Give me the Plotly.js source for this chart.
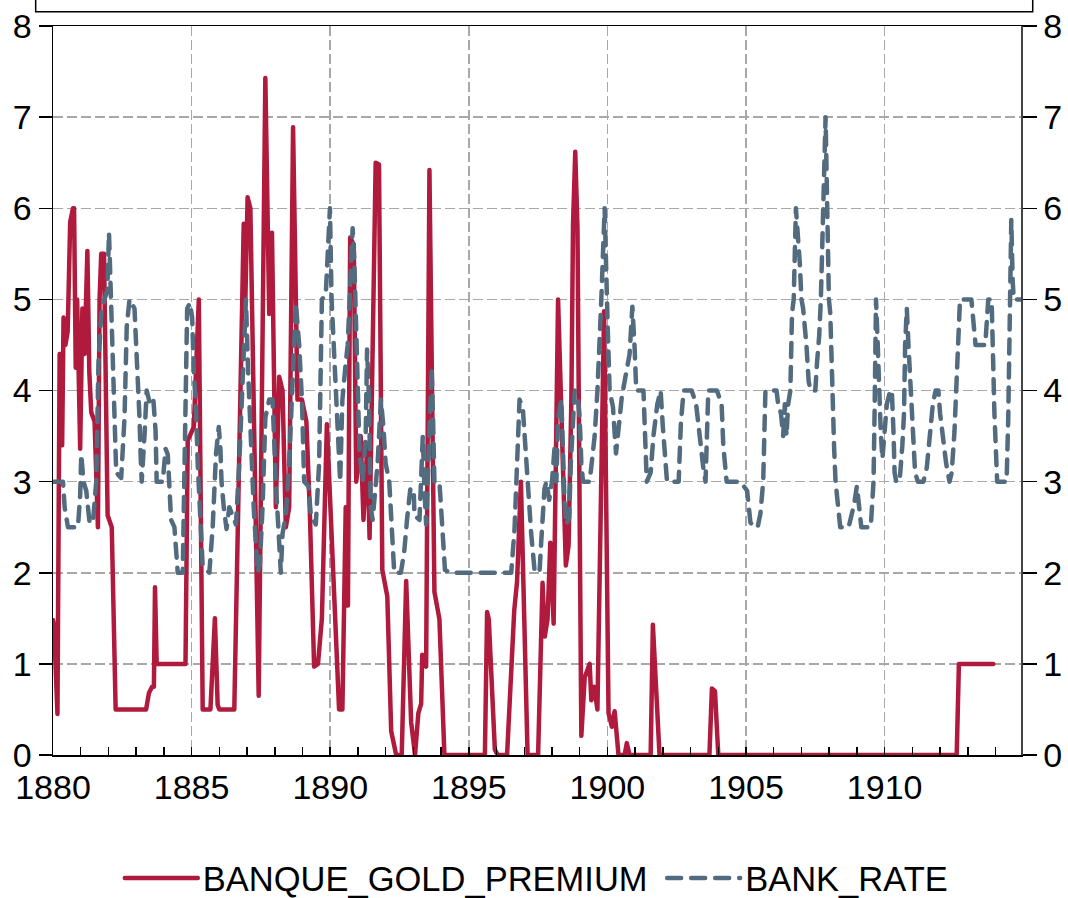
<!DOCTYPE html>
<html>
<head>
<meta charset="utf-8">
<script src="https://cdn.plot.ly/plotly-3.0.1.min.js"></script>
<style>
  html, body { margin: 0; padding: 0; background: #ffffff; }
  #chart { width: 1068px; height: 898px; }
  .scatterlayer .js-line, .legend .js-line { stroke-linecap: round; stroke-linejoin: round; }
</style>
</head>
<body>
<div id="chart"></div>
<script>
// ---- Data ----
var goldYears = [
  1880.00, 1880.04, 1880.16, 1880.24, 1880.30, 1880.33, 1880.38, 1880.45, 1880.53, 1880.62,
  1880.72, 1880.76, 1880.82, 1880.87, 1880.92, 1880.98, 1881.06, 1881.14, 1881.24, 1881.31,
  1881.38, 1881.50, 1881.62, 1881.68, 1881.74, 1881.84, 1881.97, 1882.12, 1882.26, 1883.36,
  1883.46, 1883.58, 1883.64, 1883.68, 1883.74, 1884.78, 1884.86, 1885.08, 1885.26, 1885.40,
  1885.68, 1885.84, 1885.94, 1886.00, 1886.54, 1886.88, 1886.94, 1887.02, 1887.12, 1887.42,
  1887.66, 1887.80, 1887.90, 1888.04, 1888.16, 1888.28, 1888.40, 1888.52, 1888.66, 1888.82,
  1888.98, 1889.14, 1889.26, 1889.42, 1889.56, 1889.70, 1889.88, 1890.00, 1890.32, 1890.44,
  1890.56, 1890.64, 1890.72, 1890.85, 1890.94, 1891.10, 1891.20, 1891.34, 1891.42, 1891.64,
  1891.76, 1891.88, 1892.06, 1892.20, 1892.38, 1892.58, 1892.74, 1892.92, 1893.06, 1893.18,
  1893.28, 1893.32, 1893.46, 1893.58, 1893.76, 1893.94, 1894.12, 1895.58, 1895.66, 1895.72,
  1895.94, 1896.04, 1896.38, 1896.64, 1896.74, 1896.88, 1896.98, 1897.12, 1897.50, 1897.66,
  1897.74, 1897.84, 1897.94, 1898.06, 1898.22, 1898.36, 1898.50, 1898.60, 1898.70, 1898.76,
  1898.84, 1898.92, 1899.06, 1899.18, 1899.36, 1899.42, 1899.52, 1899.64, 1899.78, 1899.88,
  1900.04, 1900.16, 1900.26, 1900.40, 1900.62, 1900.70, 1900.80, 1901.56, 1901.64, 1901.74,
  1901.88, 1903.68, 1903.77, 1903.88, 1904.00, 1912.60, 1912.68, 1913.92
];
var goldPremium = [
  1.48, 1.40, 0.45, 4.40, 4.40, 3.40, 4.80, 4.50, 4.65, 5.85,
  6.00, 6.00, 4.25, 5.00, 4.30, 3.36, 4.90, 4.40, 5.53, 4.20,
  3.76, 3.66, 2.50, 5.00, 5.50, 5.50, 2.63, 2.50, 0.50, 0.50,
  0.68, 0.75, 0.75, 1.84, 1.00, 1.00, 3.45, 3.60, 5.00, 0.50,
  0.50, 1.50, 0.55, 0.50, 0.50, 5.83, 5.00, 6.12, 6.00, 0.65,
  7.43, 4.84, 5.73, 2.72, 4.15, 4.00, 2.50, 2.72, 6.89, 3.90,
  3.90, 3.66, 2.72, 0.97, 1.00, 1.50, 3.63, 2.72, 0.50, 0.50,
  2.72, 1.64, 5.68, 5.60, 3.00, 3.50, 2.58, 3.40, 2.38, 6.50,
  6.48, 2.03, 1.74, 0.26, 0.00, 0.00, 1.91, 0.36, 0.00, 0.46,
  0.56, 1.10, 0.97, 6.42, 1.79, 1.49, 0.00, 0.00, 1.57, 1.49,
  0.06, 0.00, 0.00, 1.59, 1.90, 3.00, 1.80, 0.00, 0.00, 1.89,
  1.30, 1.49, 2.33, 1.44, 5.00, 3.70, 2.08, 2.30, 3.90, 5.83,
  6.62, 5.78, 0.21, 0.85, 1.00, 0.60, 0.75, 0.50, 3.20, 4.87,
  0.46, 0.31, 0.48, 0.00, 0.00, 0.13, 0.00, 0.00, 1.43, 0.90,
  0.00, 0.00, 0.73, 0.70, 0.00, 0.00, 1.00, 1.00
];

var rateYears = [
  1880.00, 1880.36, 1880.42, 1880.54, 1880.90, 1880.98, 1881.02, 1881.10, 1881.20, 1881.32,
  1881.44, 1881.56, 1881.64, 1881.74, 1881.86, 1881.96, 1882.02, 1882.06, 1882.10, 1882.16,
  1882.22, 1882.28, 1882.46, 1882.58, 1882.66, 1882.76, 1882.94, 1883.02, 1883.06, 1883.12,
  1883.16, 1883.20, 1883.30, 1883.38, 1883.50, 1883.62, 1883.70, 1883.74, 1883.96, 1884.06,
  1884.14, 1884.26, 1884.38, 1884.44, 1884.50, 1884.68, 1884.74, 1884.80, 1884.84, 1884.94,
  1885.02, 1885.08, 1885.16, 1885.22, 1885.34, 1885.40, 1885.64, 1885.76, 1885.88, 1885.98,
  1886.04, 1886.08, 1886.16, 1886.26, 1886.36, 1886.48, 1886.60, 1886.72, 1886.84, 1886.96,
  1887.04, 1887.12, 1887.24, 1887.38, 1887.46, 1887.56, 1887.66, 1887.80, 1887.92, 1888.04,
  1888.12, 1888.22, 1888.28, 1888.40, 1888.52, 1888.64, 1888.76, 1888.88, 1888.98, 1889.06,
  1889.22, 1889.30, 1889.48, 1889.60, 1889.70, 1889.84, 1889.99, 1890.05, 1890.12, 1890.20,
  1890.30, 1890.36, 1890.44, 1890.50, 1890.56, 1890.63, 1890.70, 1890.81, 1890.87, 1890.94,
  1890.99, 1891.06, 1891.17, 1891.24, 1891.28, 1891.33, 1891.40, 1891.46, 1891.53, 1891.71,
  1891.83, 1891.92, 1892.00, 1892.13, 1892.22, 1892.31, 1892.55, 1892.67, 1892.77, 1892.89,
  1893.01, 1893.04, 1893.22, 1893.28, 1893.34, 1893.40, 1893.46, 1893.54, 1893.61, 1893.66,
  1893.71, 1893.76, 1893.94, 1894.00, 1894.06, 1894.14, 1894.36, 1896.53, 1896.65, 1896.71,
  1896.77, 1896.83, 1896.95, 1897.01, 1897.07, 1897.13, 1897.19, 1897.25, 1897.37, 1897.55,
  1897.61, 1897.73, 1897.80, 1897.90, 1898.00, 1898.10, 1898.16, 1898.22, 1898.34, 1898.40,
  1898.46, 1898.52, 1898.62, 1898.68, 1898.76, 1898.82, 1898.94, 1899.00, 1899.06, 1899.12,
  1899.36, 1899.44, 1899.54, 1899.64, 1899.72, 1899.78, 1899.90, 1899.96, 1900.01, 1900.08,
  1900.20, 1900.31, 1900.40, 1900.52, 1900.80, 1900.90, 1900.98, 1901.04, 1901.30, 1901.36,
  1901.42, 1901.56, 1901.66, 1901.80, 1901.92, 1902.00, 1902.07, 1902.15, 1902.57, 1902.65,
  1902.75, 1903.04, 1903.20, 1903.34, 1903.46, 1903.54, 1903.60, 1903.64, 1903.95, 1904.12,
  1904.18, 1904.24, 1904.30, 1904.80, 1905.04, 1905.16, 1905.30, 1905.42, 1905.52, 1905.62,
  1905.66, 1905.70, 1906.10, 1906.16, 1906.26, 1906.34, 1906.40, 1906.46, 1906.52, 1906.60,
  1906.66, 1906.72, 1906.80, 1906.88, 1906.94, 1907.00, 1907.06, 1907.18, 1907.26, 1907.33,
  1907.50, 1907.56, 1907.64, 1907.70, 1907.78, 1907.87, 1907.93, 1907.99, 1908.04, 1908.10,
  1908.14, 1908.18, 1908.23, 1908.32, 1908.40, 1908.70, 1908.90, 1909.00, 1909.08, 1909.16,
  1909.50, 1909.60, 1909.64, 1909.69, 1909.74, 1909.80, 1909.86, 1909.92, 1909.98, 1910.08,
  1910.20, 1910.26, 1910.32, 1910.36, 1910.42, 1910.54, 1910.64, 1910.70, 1910.74, 1910.80,
  1910.86, 1910.96, 1911.04, 1911.10, 1911.20, 1911.40, 1911.52, 1911.64, 1911.74, 1911.84,
  1911.94, 1912.00, 1912.12, 1912.22, 1912.34, 1912.42, 1912.52, 1912.58, 1912.64, 1912.72,
  1913.13, 1913.20, 1913.28, 1913.63, 1913.68, 1913.74, 1913.86, 1913.90, 1913.96, 1914.06,
  1914.40, 1914.46, 1914.50, 1914.53, 1914.57, 1914.62, 1914.66, 1914.92
];
var bankRate = [
  3.00, 3.00, 2.72, 2.50, 2.50, 2.85, 3.30, 3.00, 2.90, 2.55,
  2.55, 3.00, 4.30, 4.84, 5.00, 5.10, 5.73, 5.33, 5.00, 4.20,
  3.56, 3.10, 3.04, 3.70, 4.70, 5.00, 4.90, 4.45, 4.20, 3.70,
  3.30, 3.00, 3.50, 4.00, 3.85, 3.90, 3.56, 3.00, 3.00, 3.36,
  3.30, 2.58, 2.50, 2.28, 2.00, 2.00, 3.20, 4.20, 4.90, 4.96,
  4.80, 4.20, 3.80, 3.20, 2.48, 2.07, 2.00, 2.50, 3.30, 3.60,
  3.36, 3.00, 2.72, 2.48, 2.72, 2.63, 2.53, 3.20, 4.10, 5.00,
  4.20, 3.46, 2.72, 2.00, 2.08, 2.72, 3.70, 3.90, 3.90, 2.98,
  2.43, 2.00, 2.43, 2.63, 3.20, 4.20, 4.96, 4.50, 3.90, 3.00,
  2.95, 2.63, 2.53, 3.20, 5.00, 5.05, 6.00, 5.00, 4.50, 4.00,
  3.30, 3.00, 3.90, 4.20, 4.30, 4.50, 5.00, 5.78, 5.43, 4.70,
  3.90, 3.30, 3.00, 3.30, 3.50, 4.45, 3.90, 2.72, 2.58, 3.20,
  3.90, 3.60, 3.20, 3.00, 2.48, 2.00, 2.00, 2.23, 2.58, 2.92,
  2.92, 2.63, 2.58, 3.20, 3.50, 2.92, 2.53, 3.20, 3.90, 4.25,
  3.70, 3.00, 3.00, 2.72, 2.33, 2.03, 2.00, 2.00, 2.48, 3.00,
  3.50, 3.90, 3.80, 3.50, 3.20, 2.92, 2.72, 2.43, 2.03, 2.00,
  2.33, 2.92, 3.00, 2.80, 3.00, 3.40, 3.00, 3.70, 3.90, 3.30,
  2.72, 2.53, 2.60, 3.20, 3.70, 4.00, 3.90, 3.70, 3.20, 3.00,
  3.00, 3.20, 3.50, 4.00, 4.50, 5.00, 6.00, 5.48, 4.70, 4.00,
  3.82, 3.31, 3.60, 3.93, 4.40, 4.92, 4.48, 4.00, 4.00, 3.50,
  3.00, 3.10, 3.50, 3.85, 4.00, 3.60, 3.25, 3.00, 3.00, 3.64,
  4.00, 4.00, 3.85, 3.45, 3.15, 3.00, 3.45, 4.00, 4.00, 3.85,
  3.40, 3.10, 3.00, 3.00, 2.90, 2.55, 2.50, 2.50, 2.65, 3.00,
  3.40, 4.00, 4.00, 3.85, 3.75, 3.50, 3.85, 3.50, 3.85, 4.00,
  4.85, 5.00, 6.00, 5.70, 5.40, 5.00, 4.90, 4.50, 4.10, 4.00,
  4.00, 4.30, 4.60, 5.00, 6.00, 7.00, 6.00, 5.00, 4.85, 4.10,
  3.75, 3.36, 3.00, 2.75, 2.50, 2.50, 2.75, 2.95, 2.75, 2.50,
  2.50, 3.00, 3.80, 5.00, 4.60, 4.00, 3.55, 3.25, 3.55, 3.85,
  4.00, 4.00, 3.55, 3.10, 3.00, 3.00, 3.40, 3.75, 4.50, 4.90,
  4.50, 3.85, 3.36, 3.10, 3.00, 3.00, 3.15, 3.60, 3.85, 4.00,
  4.00, 3.75, 3.40, 3.20, 3.00, 3.10, 3.55, 4.00, 4.50, 5.00,
  5.00, 4.80, 4.50, 4.50, 4.80, 5.00, 5.00, 4.40, 3.76, 3.00,
  3.00, 3.70, 4.70, 5.00, 5.87, 5.20, 5.00, 5.00
];

var yTicks = [0, 1, 2, 3, 4, 5, 6, 7, 8];
var xTicks = [1880, 1885, 1890, 1895, 1900, 1905, 1910];
var seriesNames = ['BANQUE_GOLD_PREMIUM', 'BANK_RATE'];

// ---- Styling ----
var FONT = 'Liberation Sans, Arial, Helvetica, sans-serif';
var RED = '#B01A3D';
var BLUE = '#536B7F';
var GRID = '#a8a8a8';

var traces = [
  {
    x: goldYears, y: goldPremium, name: seriesNames[0] + '\u00A0',
    type: 'scatter', mode: 'lines', yaxis: 'y',
    line: { color: RED, width: 4.5, shape: 'linear' }
  },
  {
    x: rateYears, y: bankRate, name: seriesNames[1],
    type: 'scatter', mode: 'lines', yaxis: 'y2',
    line: { color: BLUE, width: 4.5, dash: '14px,10px', shape: 'linear' }
  }
];

var layout = {
  width: 1068, height: 898,
  paper_bgcolor: '#ffffff', plot_bgcolor: '#ffffff',
  margin: { l: 53, r: 47, t: 26, b: 143 },
  font: { family: FONT, size: 34.5, color: '#000000' },
  showlegend: true,
  legend: {
    orientation: 'h', x: 0.069, xanchor: 'left',
    yref: 'container', y: 0.0223, yanchor: 'middle',
    font: { family: FONT, size: 34.5, color: '#000000' },
    itemwidth: 73,
    bgcolor: 'rgba(0,0,0,0)', borderwidth: 0,
    traceorder: 'normal'
  },
  xaxis: {
    range: [1880, 1914.92],
    tickmode: 'array', tickvals: xTicks, ticktext: xTicks.map(String),
    ticks: 'inside', ticklen: 8, tickwidth: 1.5, tickcolor: '#000000',
    minor: { dtick: 1, tick0: 1880, ticks: 'inside', ticklen: 8, tickwidth: 1.5, tickcolor: '#000000', showgrid: false },
    showgrid: true, gridcolor: GRID, gridwidth: 1.5, griddash: '10px,4px',
    showline: true, linecolor: '#000000', linewidth: 1.5, mirror: true,
    zeroline: false, automargin: false, ticklabelstandoff: 2,
    tickfont: { family: FONT, size: 34, color: '#000000' }
  },
  yaxis: {
    range: [0, 8],
    tickmode: 'array', tickvals: yTicks, ticktext: yTicks.map(String),
    ticks: 'outside', ticklen: 13, tickwidth: 1.5, tickcolor: '#000000',
    showgrid: true, gridcolor: GRID, gridwidth: 1.5, griddash: '10px,4px',
    showline: true, linecolor: '#000000', linewidth: 1.5, mirror: false,
    zeroline: false, automargin: false,
    tickfont: { family: FONT, size: 34, color: '#000000' }
  },
  yaxis2: {
    range: [0, 8], overlaying: 'y', side: 'right', anchor: 'x',
    tickmode: 'array', tickvals: yTicks, ticktext: yTicks.map(String),
    ticks: 'outside', ticklen: 14, tickwidth: 1.5, tickcolor: '#000000',
    showgrid: false,
    showline: true, linecolor: '#444444', linewidth: 1.5,
    zeroline: false, automargin: false,
    tickfont: { family: FONT, size: 34, color: '#000000' }
  },
  shapes: [
    {
      type: 'rect', xref: 'paper', yref: 'paper',
      x0: -0.0179, x1: 1.0121, y0: 1.0196, y1: 1.2,
      line: { color: '#000000', width: 1.5 }, fillcolor: 'rgba(0,0,0,0)'
    }
  ]
};

Plotly.newPlot('chart', traces, layout, { displayModeBar: false, staticPlot: true });
</script>
</body>
</html>
